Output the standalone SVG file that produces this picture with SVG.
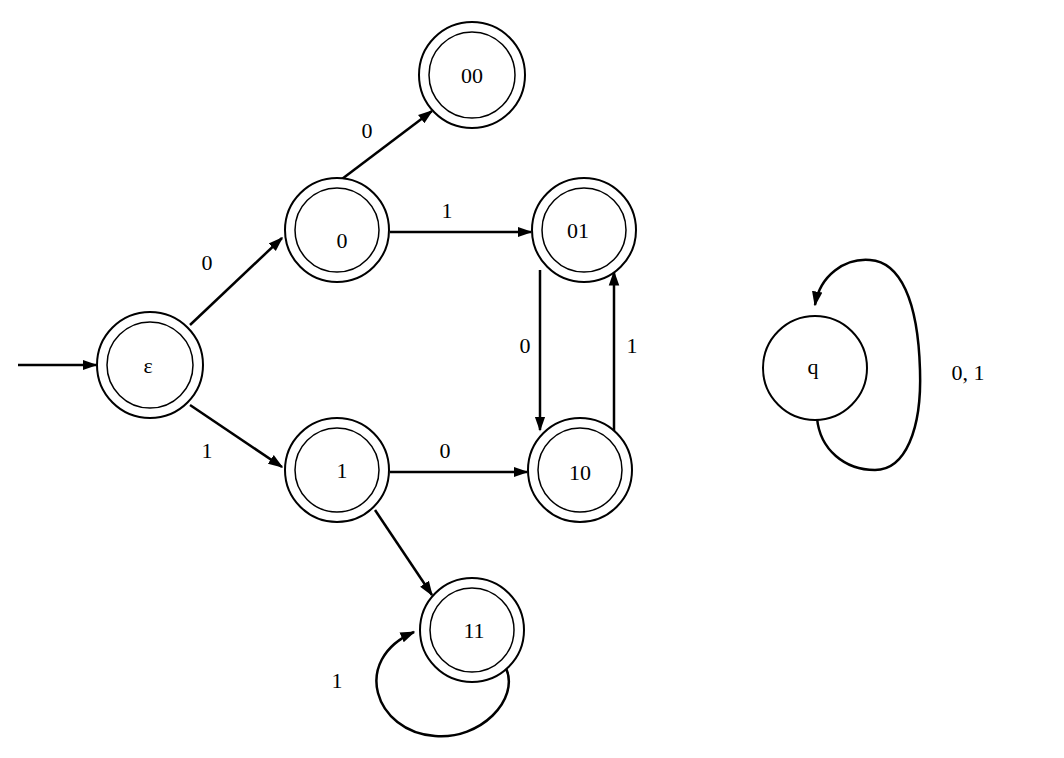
<svg xmlns="http://www.w3.org/2000/svg" width="1064" height="758" viewBox="0 0 1064 758">
<style>
.o{fill:#fff;stroke:#000;stroke-width:2}
.i{fill:none;stroke:#000;stroke-width:1.5}
.e{fill:none;stroke:#000;stroke-width:2.5;marker-end:url(#a)}
text{font-family:"Liberation Serif",serif;font-size:22px;text-anchor:middle;dominant-baseline:central}
</style>
<defs><marker id="a" viewBox="0 0 10 10" refX="9" refY="5" markerWidth="6" markerHeight="6" orient="auto" markerUnits="strokeWidth"><path d="M0,1.5L10,5L0,8.5z"/></marker></defs>
<rect width="1064" height="758" fill="#fff"/>
<g id="connectors">
<path class="e" d="M18,365H96"/>
<path class="e" d="M190,325L282,238"/>
<path class="e" d="M190,405L282,467"/>
<path class="e" d="M338,182L432,111"/>
<path class="e" d="M390,232H531"/>
<path class="e" d="M390,472H527"/>
<path class="e" d="M540,270V430"/>
<path class="e" d="M614,432V272"/>
<path class="e" d="M375,510L432,595"/>
<path class="e" d="M506,668C520,700 480,740 435,736C375,732 350,660 414,632"/>
<path class="e" d="M817,418C820,450 845,470 875,470C905,470 922,430 920,370C918,300 900,262 870,260C845,258 820,275 815,305"/>
<text x="207" y="262">0</text>
<text x="207" y="450">1</text>
<text x="367" y="130">0</text>
<text x="447" y="210">1</text>
<text x="445" y="450">0</text>
<text x="525" y="345">0</text>
<text x="632" y="345">1</text>
<text x="337" y="680">1</text>
<text x="968" y="372">0, 1</text>
</g>
<g id="n_eps"><circle class="o" cx="150" cy="365" r="53"/><circle class="i" cx="150" cy="365" r="43"/><text x="148" y="365">ε</text></g>
<g id="n_0"><circle class="o" cx="337" cy="230" r="52"/><circle class="i" cx="337" cy="230" r="42"/><text x="342" y="240">0</text></g>
<g id="n_00"><circle class="o" cx="472" cy="75" r="53"/><circle class="i" cx="472" cy="75" r="43"/><text x="472" y="75">00</text></g>
<g id="n_01"><circle class="o" cx="584" cy="230" r="52"/><circle class="i" cx="584" cy="230" r="42"/><text x="578" y="230">01</text></g>
<g id="n_1"><circle class="o" cx="337" cy="470" r="52"/><circle class="i" cx="337" cy="470" r="42"/><text x="342" y="470">1</text></g>
<g id="n_10"><circle class="o" cx="580" cy="470" r="52"/><circle class="i" cx="580" cy="470" r="42"/><text x="580" y="472">10</text></g>
<g id="n_11"><circle class="o" cx="472" cy="630" r="52"/><circle class="i" cx="472" cy="630" r="42"/><text x="474" y="630">11</text></g>
<g id="n_q"><circle class="o" cx="815" cy="368" r="52"/><text x="813" y="366">q</text></g>
</svg>
